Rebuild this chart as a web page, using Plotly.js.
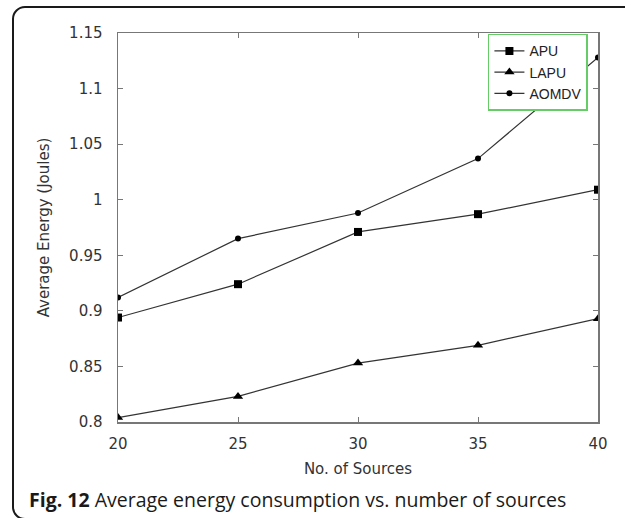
<!DOCTYPE html>
<html>
<head>
<meta charset="utf-8">
<script src="https://cdn.plot.ly/plotly-3.0.1.min.js"></script>
<style>
  html, body { margin: 0; padding: 0; background: #fff; overflow: hidden; }
  #wrap { position: relative; width: 625px; height: 518px; }
  #chart { position: absolute; left: 0; top: 0; width: 625px; height: 518px; }
  #frame { position: absolute; left: 12px; top: 6px; width: 680px; height: 510px;
           border: 2px solid #1a1a1a; border-radius: 13px; pointer-events: none; }
</style>
</head>
<body>
<div id="wrap">
  <div id="chart"></div>
  <div id="frame"></div>
</div>
<script>
const sources = [20, 25, 30, 35, 40];
const apu   = [0.894, 0.924, 0.971, 0.987, 1.009];
const lapu  = [0.804, 0.823, 0.853, 0.869, 0.893];
const aomdv = [0.912, 0.965, 0.988, 1.037, 1.128];
const yTicks = [0.8, 0.85, 0.9, 0.95, 1, 1.05, 1.1, 1.15];
const yTickText = ['0.8', '0.85', '0.9', '0.95', '1', '1.05', '1.1', '1.15'];
const xTicks = [20, 25, 30, 35, 40];

const lineStyle = { color: '#333333', width: 1.2 };
const traces = [
  { x: sources, y: apu, name: 'APU', mode: 'lines+markers', line: lineStyle,
    marker: { symbol: 'square', size: 8, color: '#000' } },
  { x: sources, y: lapu, name: 'LAPU', mode: 'lines+markers', line: lineStyle,
    marker: { symbol: 'triangle-up', size: 9, color: '#000' } },
  { x: sources, y: aomdv, name: 'AOMDV', mode: 'lines+markers', line: lineStyle,
    marker: { symbol: 'circle', size: 6, color: '#000' } }
];

const tickFont = { family: 'DejaVu Sans, sans-serif', size: 15, color: '#333' };
const layout = {
  width: 625, height: 518,
  margin: { l: 118, r: 27, t: 33, b: 96 },
  paper_bgcolor: '#fff', plot_bgcolor: '#fff',
  showlegend: true,
  legend: {
    x: 0.979, xanchor: 'right', y: 0.998, yanchor: 'top',
    bordercolor: '#66cc66', borderwidth: 1.5, bgcolor: '#fff',
    font: { family: 'Liberation Sans, Arial, sans-serif', size: 14, color: '#222' },
    tracegroupgap: 0, itemwidth: 30
  },
  xaxis: {
    range: [20, 40], tickvals: xTicks, ticks: 'inside', ticklen: 5,
    tickcolor: '#777', showline: true, linecolor: '#777', linewidth: 1.5,
    mirror: 'allticks', showgrid: false, zeroline: false,
    tickfont: tickFont, ticklabelstandoff: 7,
    title: { text: 'No. of Sources', font: tickFont, standoff: 12 }
  },
  yaxis: {
    range: [0.8, 1.15], tickvals: yTicks, ticktext: yTickText, ticks: 'inside', ticklen: 5,
    tickcolor: '#777', showline: true, linecolor: '#777', linewidth: 1.5,
    mirror: 'allticks', showgrid: false, zeroline: false,
    tickfont: tickFont, ticklabelstandoff: 11,
    title: { text: 'Average Energy (Joules)', font: tickFont, standoff: 16 }
  },
  annotations: [{
    xref: 'paper', yref: 'paper', x: -0.19, y: -0.2, xanchor: 'left', yanchor: 'middle',
    showarrow: false, align: 'left',
    text: '<b>Fig. 12</b> Average energy consumption vs. number of sources',
    font: { family: 'Open Sans, sans-serif', size: 19.5, color: '#1a1a1a' }
  }]
};

Plotly.newPlot('chart', traces, layout, { displayModeBar: false, staticPlot: true });
</script>
</body>
</html>
